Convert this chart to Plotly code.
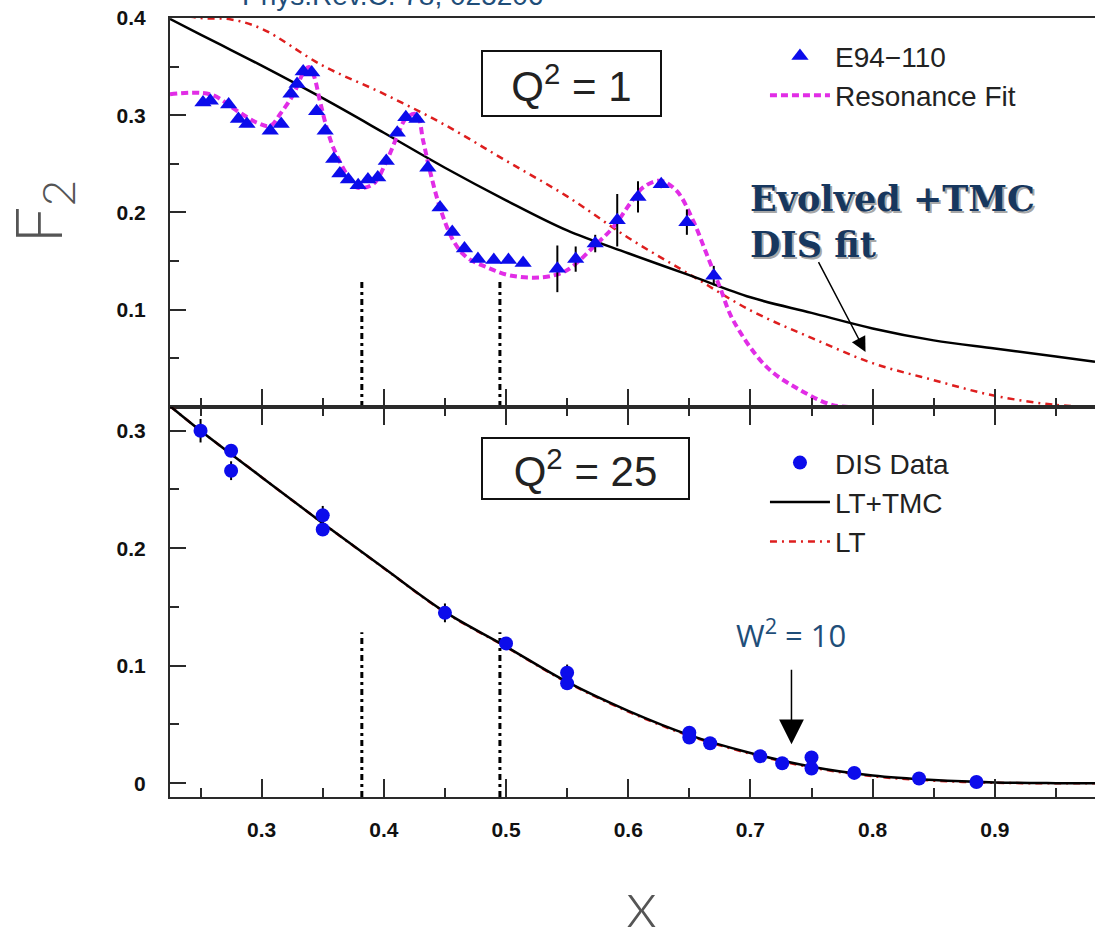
import plotly.graph_objects as go

# ---------------- axis ticks ----------------
x_major = [0.3, 0.4, 0.5, 0.6, 0.7, 0.8, 0.9]
x_minor = [0.25, 0.35, 0.45, 0.55, 0.65, 0.75, 0.85, 0.95]
y_top_major = [0.1, 0.2, 0.3, 0.4]
y_top_minor = [0.05, 0.15, 0.25, 0.35]
y_bot_major = [0.0, 0.1, 0.2, 0.3]
y_bot_minor = [0.05, 0.15, 0.25]

# ---------------- top panel (Q^2 = 1) ----------------
e94_x = [0.252, 0.258, 0.273, 0.281, 0.288, 0.307, 0.316, 0.324, 0.329, 0.334, 0.341,
         0.345, 0.352, 0.359, 0.364, 0.371, 0.379, 0.387, 0.395, 0.402, 0.411, 0.418,
         0.427, 0.436, 0.446, 0.456, 0.466, 0.477, 0.490, 0.502, 0.514, 0.542, 0.557,
         0.573, 0.591, 0.608, 0.627, 0.648, 0.670]
e94_y = [0.313, 0.315, 0.311, 0.296, 0.291, 0.284, 0.291, 0.322, 0.332, 0.345, 0.344,
         0.304, 0.284, 0.255, 0.240, 0.234, 0.228, 0.234, 0.236, 0.253, 0.282, 0.298,
         0.296, 0.246, 0.205, 0.180, 0.163, 0.152, 0.151, 0.151, 0.148, 0.142, 0.152,
         0.168, 0.192, 0.216, 0.229, 0.190, 0.135]
e94_err = [0.003] * 31 + [0.024, 0.013, 0.009, 0.027, 0.016, 0.004, 0.013, 0.010]

res_x = [0.225, 0.258, 0.280, 0.296, 0.307, 0.315, 0.326, 0.334, 0.3387, 0.3428, 0.3477,
         0.3532, 0.3586, 0.3695, 0.3777, 0.3913, 0.4023, 0.4105, 0.4186, 0.4268, 0.4322,
         0.4377, 0.4459, 0.4568, 0.4677, 0.4841, 0.5032, 0.5304, 0.5495, 0.5741, 0.5877,
         0.6013, 0.6122, 0.6259, 0.6395, 0.6531, 0.6641, 0.6750, 0.6859, 0.7132, 0.7408,
         0.7674, 0.785]
res_y = [0.3215, 0.3215, 0.3044, 0.2924, 0.2890, 0.3010, 0.3215, 0.3434, 0.3495, 0.3403,
         0.3147, 0.2873, 0.2668, 0.2395, 0.2257, 0.2292, 0.2531, 0.2770, 0.2975, 0.3010,
         0.2736, 0.2429, 0.2052, 0.1711, 0.1539, 0.1437, 0.1352, 0.1334, 0.1403, 0.1677,
         0.1847, 0.2087, 0.2257, 0.2326, 0.2224, 0.1916, 0.1574, 0.1232, 0.0890, 0.0411,
         0.0172, 0.0018, 0.0]

top_x = [0.225, 0.25, 0.275, 0.30, 0.35, 0.40, 0.45, 0.50, 0.55, 0.60, 0.65, 0.70,
         0.75, 0.80, 0.85, 0.90, 0.95, 0.982]
dis_fit_tmc_top = [0.399, 0.383, 0.367, 0.351, 0.3175, 0.282, 0.246, 0.2125, 0.1815,
                   0.158, 0.1355, 0.1127, 0.0967, 0.0807, 0.0684, 0.060, 0.0517, 0.0463]
dis_fit_lt_top = [0.405, 0.400, 0.3985, 0.389, 0.351, 0.322, 0.290, 0.2532, 0.2165,
                  0.174, 0.1365, 0.0993, 0.071, 0.045, 0.0275, 0.0114, 0.002, 0.0]

# ---------------- bottom panel (Q^2 = 25) ----------------
dis_x = [0.250, 0.275, 0.275, 0.350, 0.350, 0.450, 0.500, 0.550, 0.550, 0.650, 0.650,
         0.667, 0.708, 0.726, 0.750, 0.750, 0.785, 0.838, 0.885]
dis_y = [0.300, 0.283, 0.266, 0.228, 0.216, 0.145, 0.119, 0.094, 0.085, 0.043, 0.039,
         0.034, 0.023, 0.017, 0.022, 0.0125, 0.0088, 0.0040, 0.0011]
dis_err = [0.010, 0.004, 0.008, 0.008, 0.004, 0.008, 0.004, 0.007, 0.004, 0.005, 0.003,
           0.003, 0.003, 0.003, 0.003, 0.003, 0.003, 0.003, 0.003]

bot_x = [0.225, 0.25, 0.30, 0.35, 0.40, 0.45, 0.50, 0.55, 0.60, 0.65, 0.70, 0.75,
         0.80, 0.85, 0.90, 0.95, 0.982]
lt_tmc_bot = [0.321, 0.300, 0.2605, 0.2213, 0.1832, 0.1458, 0.1163, 0.0862, 0.0616,
              0.0410, 0.0258, 0.0141, 0.0066, 0.0027, 0.0007, 0.0001, 0.0]
lt_bot = [0.321, 0.300, 0.2605, 0.2213, 0.1830, 0.1455, 0.1160, 0.0858, 0.0610,
          0.0404, 0.0252, 0.0135, 0.0060, 0.0022, 0.0004, 0.0, 0.0]

# vertical markers
cut_x = [0.382, 0.495]
cut_top_y = [0.0, 0.132]
cut_bot_y = [-0.0117, 0.1285]

# annotation anchor values
w2_x, w2_tip_y, w2_tail_y = 0.7336, 0.0332, 0.0979
evo_tip = (0.7942, 0.0565)
evo_tail = (0.7551, 0.1505)

BLUE = "rgb(12,12,235)"
MAGENTA = "rgb(225,45,230)"
RED = "rgb(222,30,30)"
AX = "#2a2a2a"
NAVY = "#17375e"

fig = go.Figure()

# ---- top panel traces
fig.add_trace(go.Scatter(x=top_x, y=dis_fit_lt_top, mode="lines", line_shape="spline",
                         line=dict(color=RED, width=2.5, dash="7px,5px,2px,5px"),
                         showlegend=False, xaxis="x", yaxis="y"))
fig.add_trace(go.Scatter(x=top_x, y=dis_fit_tmc_top, mode="lines", line_shape="spline",
                         line=dict(color="black", width=2.5),
                         showlegend=False, xaxis="x", yaxis="y"))
cx, cy = [], []
for xv in cut_x:
    cx += [xv, xv, None]
    cy += [cut_top_y[0], cut_top_y[1], None]
fig.add_trace(go.Scatter(x=cx, y=cy, mode="lines",
                         line=dict(color="black", width=3, dash="6px,4px,3px,4px"),
                         showlegend=False, xaxis="x", yaxis="y"))
fig.add_trace(go.Scatter(x=res_x, y=res_y, mode="lines", line_shape="spline",
                         line=dict(color=MAGENTA, width=4, dash="7px,4px"),
                         name="Resonance Fit", legend="legend", legendrank=2,
                         xaxis="x", yaxis="y"))
fig.add_trace(go.Scatter(x=e94_x, y=e94_y, mode="markers",
                         marker=dict(symbol="triangle-up", size=15, color=BLUE),
                         error_y=dict(type="data", array=e94_err, color="black",
                                      thickness=2, width=0),
                         name="E94\u2212110", legend="legend", legendrank=1,
                         xaxis="x", yaxis="y"))

# ---- bottom panel traces
bx, by = [], []
for xv in cut_x:
    bx += [xv, xv, None]
    by += [cut_bot_y[0], cut_bot_y[1], None]
fig.add_trace(go.Scatter(x=bx, y=by, mode="lines",
                         line=dict(color="black", width=3, dash="6px,4px,3px,4px"),
                         showlegend=False, xaxis="x2", yaxis="y2"))
fig.add_trace(go.Scatter(x=bot_x, y=lt_bot, mode="lines", line_shape="spline",
                         line=dict(color=RED, width=2.5, dash="7px,5px,2px,5px"),
                         name="LT", legend="legend2", legendrank=3,
                         xaxis="x2", yaxis="y2"))
fig.add_trace(go.Scatter(x=bot_x, y=lt_tmc_bot, mode="lines", line_shape="spline",
                         line=dict(color="black", width=2.5),
                         name="LT+TMC", legend="legend2", legendrank=2,
                         xaxis="x2", yaxis="y2"))
fig.add_trace(go.Scatter(x=dis_x, y=dis_y, mode="markers",
                         marker=dict(symbol="circle", size=14, color=BLUE),
                         error_y=dict(type="data", array=dis_err, color="black",
                                      thickness=2, width=0),
                         name="DIS Data", legend="legend2", legendrank=1,
                         xaxis="x2", yaxis="y2"))

tickfont = dict(family="Liberation Sans, Arial", size=21, color="#111", weight="bold")
split = 0.5008

xcommon = dict(range=[0.225, 0.982], showgrid=False, zeroline=False, showline=True,
               linecolor=AX, linewidth=2, ticks="inside", ticklen=18, tickwidth=1.5,
               tickcolor=AX, tickvals=x_major,
               minor=dict(tickvals=x_minor, ticks="inside", ticklen=9, tickwidth=1.5,
                          tickcolor=AX))
ycommon = dict(showgrid=False, zeroline=False, showline=True, linecolor=AX, linewidth=2,
               ticks="inside", ticklen=16, tickwidth=1.5, tickcolor=AX,
               tickfont=tickfont, ticklabelstandoff=18)

legfont = dict(family="Liberation Sans", size=28, color="#222")

fig.update_layout(
    width=1095, height=930,
    margin=dict(l=170, r=0, t=18, b=133),
    paper_bgcolor="white", plot_bgcolor="white",
    xaxis=dict(**xcommon, anchor="y", domain=[0, 1], mirror=True, showticklabels=False),
    yaxis=dict(**ycommon, anchor="x", domain=[split, 1], range=[0, 0.4],
               tickvals=y_top_major, ticktext=["0.1", "0.2", "0.3", "0.4"],
               minor=dict(tickvals=y_top_minor, ticks="inside", ticklen=9,
                          tickwidth=1.5, tickcolor=AX)),
    xaxis2=dict(**xcommon, anchor="y2", domain=[0, 1], mirror="ticks",
                showticklabels=True, tickfont=tickfont, ticklabelstandoff=13,
                ticktext=["0.3", "0.4", "0.5", "0.6", "0.7", "0.8", "0.9"]),
    yaxis2=dict(**ycommon, anchor="x2", domain=[0, split], range=[-0.0117, 0.3203],
                tickvals=y_bot_major, ticktext=["0", "0.1", "0.2", "0.3"],
                minor=dict(tickvals=y_bot_minor, ticks="inside", ticklen=9,
                           tickwidth=1.5, tickcolor=AX)),
    legend=dict(x=0.6432, y=0.983, xanchor="left", yanchor="top", itemwidth=60,
                bgcolor="rgba(0,0,0,0)", font=legfont, tracegroupgap=0),
    legend2=dict(x=0.6432, y=0.461, xanchor="left", yanchor="top", itemwidth=60,
                 bgcolor="rgba(0,0,0,0)", font=legfont, tracegroupgap=0),
    showlegend=True,
)

anns = []
# reference text cut at top
anns.append(dict(text="Phys.Rev.C. 78, 025206", xref="paper", yref="paper",
                 x=0.0757, y=1, xanchor="left", yanchor="bottom", yshift=5,
                 showarrow=False, font=dict(family="Liberation Sans", size=28,
                                            color="#1f4e79")))
# Q^2 boxes
anns.append(dict(text="Q<sup>2</sup> = 1", xref="x", yref="y", x=0.5535, y=0.3326,
                 showarrow=False, width=175, height=61, borderwidth=2, borderpad=1,
                 bordercolor="#111", bgcolor="white",
                 font=dict(family="Liberation Sans", size=42, color="#222")))
anns.append(dict(text="Q<sup>2</sup> = 25", xref="x2", yref="y2", x=0.5649, y=0.2677,
                 showarrow=False, width=203, height=57, borderwidth=2, borderpad=1,
                 bordercolor="#111", bgcolor="white",
                 font=dict(family="Liberation Sans", size=42, color="#222")))
# Evolved +TMC DIS fit (shadow + text)
for dx, dy, col in [(2, -2, "rgba(90,90,90,0.55)"), (0, 0, NAVY)]:
    anns.append(dict(text="Evolved +TMC<br>DIS fit", xref="paper", yref="paper",
                     x=0.627, y=0.7945, xanchor="left", yanchor="top", align="left",
                     xshift=dx - 2, yshift=dy + 2, showarrow=False,
                     font=dict(family="DejaVu Serif", size=35, color=col,
                               weight="bold")))
anns.append(dict(text="", xref="x", yref="y", x=evo_tip[0], y=evo_tip[1],
                 axref="x", ayref="y", ax=evo_tail[0], ay=evo_tail[1],
                 showarrow=True, arrowhead=2, arrowsize=2, arrowwidth=1.5,
                 arrowcolor="black", standoff=0))
# W^2 = 10
anns.append(dict(text="W<sup>2</sup> = 10", xref="x2", yref="y2", x=w2_x, y=w2_tail_y,
                 yanchor="bottom", yshift=10, showarrow=False,
                 font=dict(family="Open Sans", size=31, color="#1f4e79")))
anns.append(dict(text="", xref="x2", yref="y2", x=w2_x, y=w2_tip_y,
                 axref="x2", ayref="y2", ax=w2_x, ay=w2_tail_y,
                 showarrow=True, arrowhead=2, arrowsize=3.3, arrowwidth=1.5,
                 arrowcolor="black", standoff=0))
# axis titles
anns.append(dict(text="F<sub>2</sub>", xref="paper", yref="paper", x=-0.136, y=0.756,
                 xshift=-50, yshift=30, textangle=-90, showarrow=False,
                 font=dict(family="Lato", size=66, color="#555", weight=300)))
anns.append(dict(text="x", xref="paper", yref="paper", x=0.510, y=0, yshift=-104,
                 yanchor="middle", showarrow=False,
                 font=dict(family="Lato", size=66, color="#555", weight=300)))
fig.update_layout(annotations=anns)

fig.write_html("out.html")
